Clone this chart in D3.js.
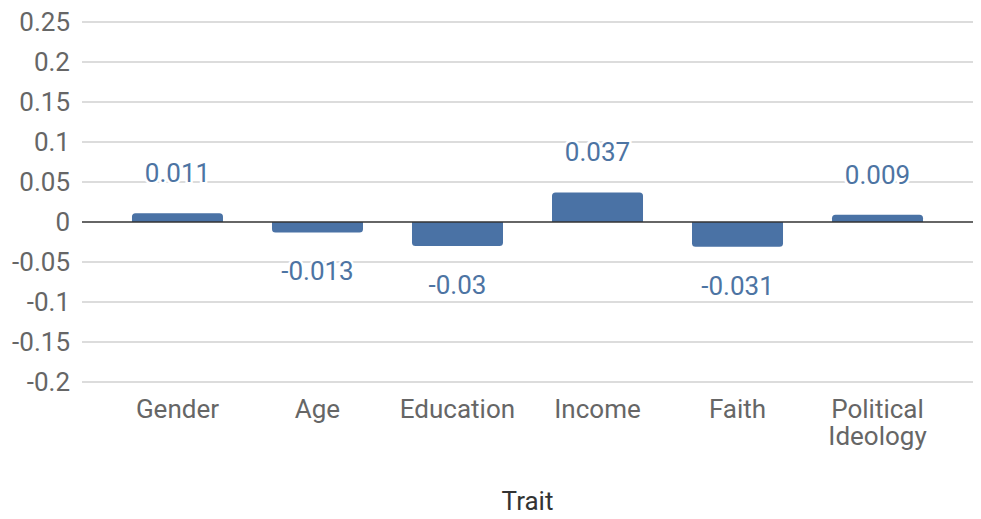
<!DOCTYPE html>
<html>
<head>
<meta charset="utf-8">
<script src="https://cdn.jsdelivr.net/npm/d3@7"></script>
<style>
  html, body { margin: 0; padding: 0; background: #fff; }
  svg { display: block; font-family: Roboto, "Noto Sans", sans-serif; }
</style>
</head>
<body>
<script>
// Trait correlations
const traits = ["Gender", "Age", "Education", "Income", "Faith", "Political Ideology"];
const values = [0.011, -0.013, -0.03, 0.037, -0.031, 0.009];
const yTicks = [-0.2, -0.15, -0.1, -0.05, 0, 0.05, 0.1, 0.15, 0.2, 0.25];
const xTitle = "Trait";

const W = 981, H = 519;
const plotLeft = 82, plotRight = 973, plotTop = 22, plotBottom = 382;
const fontSize = 26;

const svg = d3.select("body").append("svg")
  .attr("width", W).attr("height", H);

const x = d3.scaleBand().domain(traits).range([plotLeft, plotRight]).paddingInner(0.35).paddingOuter(0.357);
const y = d3.scaleLinear().domain([-0.2, 0.25]).range([plotBottom, plotTop]);

// horizontal gridlines
svg.append("g").selectAll("line").data(yTicks.filter(t => t !== 0)).join("line")
  .attr("x1", plotLeft).attr("x2", plotRight)
  .attr("y1", d => y(d)).attr("y2", d => y(d))
  .attr("stroke", "#d0d0d0").attr("stroke-width", 1.5);

// y-axis tick labels
const yAxis = d3.axisLeft(y).tickValues(yTicks).tickFormat(d => String(+d.toFixed(2))).tickSize(0).tickPadding(12);
const yg = svg.append("g").attr("transform", `translate(${plotLeft},0)`).call(yAxis);
yg.select(".domain").remove();
yg.selectAll("text").attr("fill", "#666").attr("font-size", fontSize).attr("font-family", "Roboto, sans-serif");

// bars with rounded outer ends
const r = 3.5;
function barPath(d, i) {
  const x0 = x(traits[i]), x1 = x0 + x.bandwidth();
  const y0 = y(0), y1 = y(d);
  const s = y1 < y0 ? 1 : -1; // 1 when bar grows upward
  const rr = Math.min(r, Math.abs(y0 - y1));
  return `M${x0},${y0} L${x0},${y1 + s * rr} Q${x0},${y1} ${x0 + rr},${y1} L${x1 - rr},${y1} Q${x1},${y1} ${x1},${y1 + s * rr} L${x1},${y0} Z`;
}
svg.append("g").selectAll("path").data(values).join("path")
  .attr("d", barPath)
  .attr("fill", "#4a72a5");

// zero baseline
svg.append("line")
  .attr("x1", plotLeft).attr("x2", plotRight)
  .attr("y1", y(0)).attr("y2", y(0))
  .attr("stroke", "#333").attr("stroke-width", 1.5);

// value labels
svg.append("g").selectAll("text").data(values).join("text")
  .attr("x", (d, i) => x(traits[i]) + x.bandwidth() / 2)
  .attr("y", d => d >= 0 ? y(d) - 31 : y(d) + 48)
  .attr("text-anchor", "middle")
  .attr("font-size", fontSize)
  .attr("fill", "#4d74a3")
  .attr("stroke", "#fff").attr("stroke-width", 5)
  .attr("paint-order", "stroke")
  .text(d => String(d));

// category labels
const xl = svg.append("g").selectAll("text").data(traits).join("text")
  .attr("x", d => x(d) + x.bandwidth() / 2)
  .attr("y", 418)
  .attr("text-anchor", "middle")
  .attr("font-size", fontSize)
  .attr("fill", "#666");
xl.each(function(d) {
  const words = d.split(" ");
  const t = d3.select(this);
  words.forEach((w, k) => {
    t.append("tspan").attr("x", t.attr("x")).attr("dy", k === 0 ? 0 : 27).text(w);
  });
});

// axis title
svg.append("text")
  .attr("x", (plotLeft + plotRight) / 2).attr("y", 510)
  .attr("text-anchor", "middle")
  .attr("font-size", fontSize)
  .attr("fill", "#333")
  .text(xTitle);
</script>
</body>
</html>
